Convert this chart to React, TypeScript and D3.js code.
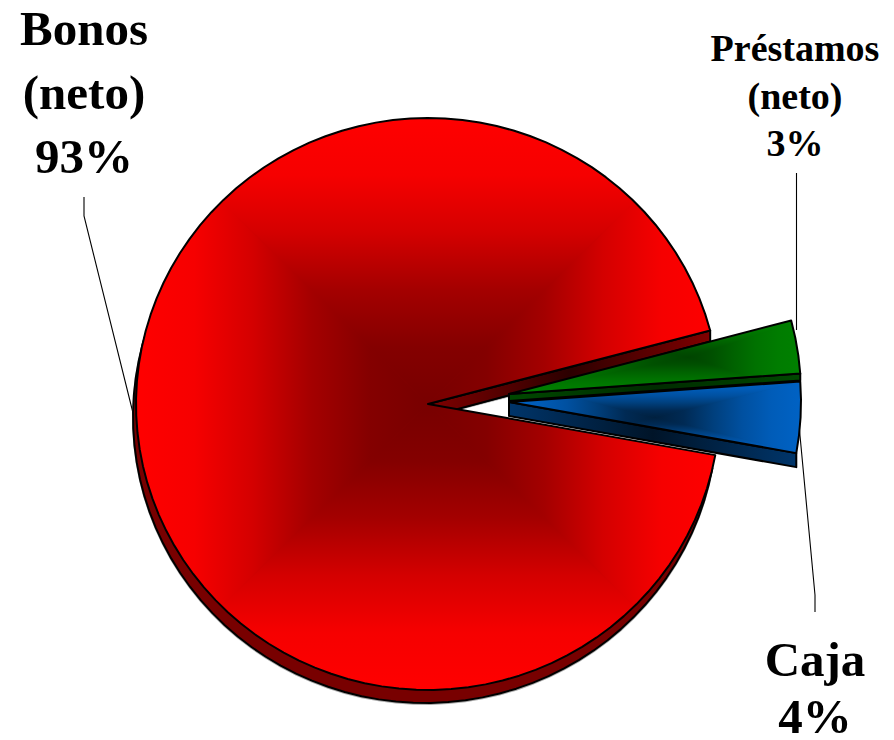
import React from "react";
import * as d3 from "d3";

const categories = ["Bonos (neto)", "Préstamos (neto)", "Caja"];
const shares = [93, 3, 4];
const labelLines = [
  ["Bonos", "(neto)", "93%"],
  ["Préstamos", "(neto)", "3%"],
  ["Caja", "4%"],
];

const W = 894, H = 740;
const cx = 428, cy = 404, rx = 292, ry = 286;
const font = "'Liberation Serif','Times New Roman',serif";

const styles = [
  { id: "red", dx: 0, dy: 0, depth: 13, stops: ["#780000", "#840000", "#a40000", "#d40000", "#f60000", "#ff0000"], wall: ["#800000", "#2c0000", "#800000"], side: [] as string[] },
  { id: "green", dx: 81, dy: -10, depth: 7, stops: ["#004400", "#005000", "#006200", "#007200", "#007c00", "#008000"], side: ["#004800", "#002c00", "#004800"], wall: [] as string[] },
  { id: "blue", dx: 81, dy: -2, depth: 14, stops: ["#00203f", "#002a54", "#003f7c", "#0050a0", "#005cb8", "#0062c4"], side: ["#00356a", "#001428", "#00356a"], wall: [] as string[] },
];

const startDeg = 100.3;
const pie = d3.pie<number>().sort(null)
  .startAngle((startDeg * Math.PI) / 180)
  .endAngle(((startDeg + 360) * Math.PI) / 180);
const arcs = pie(shares);

const px = d3.scaleLinear().domain([-1, 1]).range([cx - rx, cx + rx]);
const py = d3.scaleLinear().domain([-1, 1]).range([cy - ry, cy + ry]);
const line = d3.line();

type P = [number, number];
function rim(a: number, dx: number, dy: number): P {
  return [px(Math.sin(a)) + dx, py(-Math.cos(a)) + dy];
}
function slicePoints(a0: number, a1: number, dx: number, dy: number): P[] {
  const n = Math.max(1, Math.round((a1 - a0) / ((3.4 * Math.PI) / 180)));
  const pts: P[] = [[cx + dx, cy + dy]];
  d3.range(n + 1).forEach((i) => pts.push(rim(a0 + ((a1 - a0) * i) / n, dx, dy)));
  return pts;
}
const closed = (p: P[]) => (line(p) as string) + "Z";

function RectGradient({ id, stops, box, clip }: { id: string; stops: string[]; box: number[]; clip: string }) {
  const [x0, y0, x1, y1, mx, my] = box;
  const parts = [
    { k: "l", to: [x0, my], tri: [[x0, y0], [mx, my], [x0, y1]] },
    { k: "r", to: [x1, my], tri: [[x1, y0], [mx, my], [x1, y1]] },
    { k: "t", to: [mx, y0], tri: [[x0, y0], [mx, my], [x1, y0]] },
    { k: "b", to: [mx, y1], tri: [[x0, y1], [mx, my], [x1, y1]] },
  ];
  return (
    <g clipPath={`url(#clip-${id})`}>
      <defs>
        <clipPath id={`clip-${id}`}><path d={clip} /></clipPath>
        {parts.map((p) => (
          <linearGradient key={p.k} id={`g-${id}-${p.k}`} gradientUnits="userSpaceOnUse" x1={mx} y1={my} x2={p.to[0]} y2={p.to[1]}>
            {stops.map((s, i) => <stop key={i} offset={i / (stops.length - 1)} stopColor={s} />)}
          </linearGradient>
        ))}
      </defs>
      <rect x={x0} y={y0} width={x1 - x0} height={y1 - y0} fill={stops[2]} />
      {parts.map((p) => (
        <polygon key={p.k} points={p.tri.map((q) => q.join(",")).join(" ")} fill={`url(#g-${id}-${p.k})`}
          stroke={`url(#g-${id}-${p.k})`} strokeWidth={0.8} />
      ))}
    </g>
  );
}

function hGrad(id: string, colors: string[], x0: number, x1: number) {
  return (
    <linearGradient id={id} gradientUnits="userSpaceOnUse" x1={x0} y1={0} x2={x1} y2={0}>
      {colors.map((s, i) => <stop key={i} offset={i / (colors.length - 1)} stopColor={s} />)}
    </linearGradient>
  );
}

function Label({ lines, x, ys, size }: { lines: string[]; x: number; ys: number[]; size: number }) {
  return (
    <text fontFamily={font} fontWeight="bold" fontSize={size} textAnchor="middle" fill="#000">
      {lines.map((l, i) => <tspan key={i} x={x} y={ys[i]}>{l}</tspan>)}
    </text>
  );
}

export default function App() {
  const [red, green, blue] = arcs;
  const sr = styles[0], sg = styles[1], sb = styles[2];

  const redPts = slicePoints(red.startAngle, red.endAngle, 0, 0);
  const redD = closed(redPts);
  const redSide = closed(slicePoints(red.startAngle, red.endAngle, -3, sr.depth));
  const rTop = rim(red.endAngle, 0, 0);
  const redWall = closed([[cx, cy], rTop, [rTop[0], rTop[1] + sr.depth - 2], [cx, cy + sr.depth]]);

  const gD = closed(slicePoints(green.startAngle, green.endAngle, sg.dx, sg.dy));
  const gA: P = [cx + sg.dx, cy + sg.dy];
  const g0 = rim(green.startAngle, sg.dx, sg.dy), g1 = rim(green.endAngle, sg.dx, sg.dy);
  const gSide = closed([gA, g1, [g1[0], g1[1] + sg.depth], [gA[0], gA[1] + sg.depth]]);

  const bD = closed(slicePoints(blue.startAngle, blue.endAngle, sb.dx, sb.dy));
  const bA: P = [cx + sb.dx, cy + sb.dy];
  const b0 = rim(blue.startAngle, sb.dx, sb.dy), b1 = rim(blue.endAngle, sb.dx, sb.dy);
  const bSide = closed([bA, b1, [b1[0], b1[1] + sb.depth], [bA[0], bA[1] + sb.depth]]);

  const stroke = { stroke: "#000", strokeWidth: 2, strokeLinejoin: "round" as const };
  const leader = { fill: "none", stroke: "#000", strokeWidth: 1.1 };

  return (
    <svg width={W} height={H} viewBox={`0 0 ${W} ${H}`} role="img" aria-label={categories.join(", ")}
      style={{ position: "absolute", left: 0, top: 0, background: "#fff" }}>
      <defs>
        {hGrad("wallR", sr.wall, cx, rTop[0])}
        {hGrad("sideG", sg.side, gA[0], g1[0])}
        {hGrad("sideB", sb.side, bA[0], b1[0])}
      </defs>

      <path d="M84,197V216L136,425" {...leader} />
      <path d="M796.5,173V330" {...leader} />
      <path d="M815,612V595L799,425" {...leader} />

      <path d={redSide} fill="none" stroke="#aaa" strokeWidth={2} transform="translate(0,1)" />
      <path d={redSide} fill="#780000" {...stroke} />
      <path d={redWall} fill="url(#wallR)" {...stroke} />
      <RectGradient id="red" stops={sr.stops} clip={redD} box={[cx - rx, cy - ry, cx + rx, cy + ry, cx, cy]} />
      <path d={redD} fill="none" {...stroke} />

      <path d={gSide} fill="url(#sideG)" {...stroke} />
      <RectGradient id="green" stops={sg.stops} clip={gD}
        box={[gA[0], Math.min(g0[1], g1[1]), Math.max(g0[0], g1[0]), gA[1], (gA[0] + g1[0]) / 2 + 35, (g0[1] + gA[1]) / 2]} />
      <path d={gD} fill="none" {...stroke} />

      <path d={bSide} fill="url(#sideB)" {...stroke} />
      <RectGradient id="blue" stops={sb.stops} clip={bD}
        box={[bA[0], b0[1], Math.max(b0[0], b1[0]), b1[1], (bA[0] + b0[0]) / 2, (b0[1] + b1[1]) / 2]} />
      <path d={bD} fill="none" {...stroke} />

      <Label lines={labelLines[0]} x={84} ys={[45, 109, 173]} size={49} />
      <Label lines={labelLines[1]} x={795} ys={[61, 109, 156]} size={38} />
      <Label lines={labelLines[2]} x={815} ys={[676, 733]} size={49} />
    </svg>
  );
}
